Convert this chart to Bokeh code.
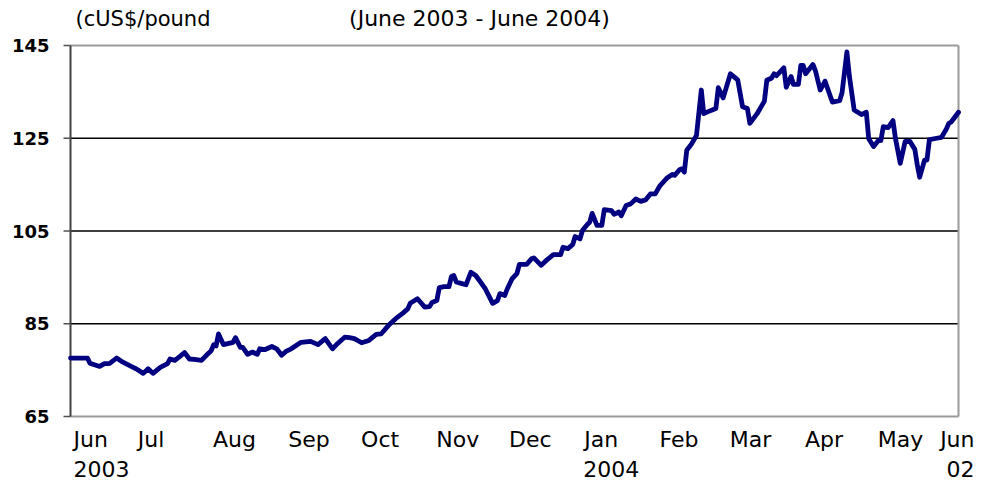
import pandas as pd
from bokeh.plotting import figure
from bokeh.models import Range1d, ColumnDataSource
from bokeh.core.properties import value
from bokeh.embed import file_html
from bokeh.resources import INLINE

# ---------------- data ----------------
start_date = "2003-06-02"
end_date = "2004-06-02"

# day offsets from start_date and copper price (cUS$/pound)
days = [0, 7, 8, 12, 14, 16, 19, 21, 25, 27,
        30, 32, 34, 37, 40, 41, 43, 45, 47, 49,
        51, 54, 56, 58, 59, 60, 61, 63, 67, 68,
        70, 71, 73, 75, 77, 78, 80, 83, 85, 87,
        89, 91, 95, 99, 102, 105, 108, 110, 113, 115,
        117, 120, 123, 126, 128, 131, 134, 137, 139, 140,
        143, 146, 148, 149, 151, 152, 154, 156, 157, 158,
        159, 161, 163, 165, 167, 169, 171, 174, 176, 177,
        179, 180, 182, 184, 185, 188, 190, 191, 194, 196,
        199, 202, 203, 205, 207, 208, 210, 211, 213, 214,
        215, 217, 219, 220, 223, 224, 226, 227, 229, 231,
        233, 235, 237, 239, 241, 243, 246, 248, 249, 251,
        252, 253, 254, 256, 258, 260, 261, 264, 266, 267,
        269, 272, 275, 277, 279, 280, 283, 286, 287, 289,
        290, 291, 294, 295, 297, 298, 300, 301, 302, 303,
        306, 307, 309, 311, 314, 317, 318, 320, 321, 323,
        326, 328, 329, 331, 333, 334, 335, 337, 339, 340,
        342, 344, 346, 348, 349, 350, 352, 353, 354, 357,
        359, 361, 362, 363, 366]

prices = [77.6, 77.6, 76.5, 75.8, 76.4, 76.4, 77.6, 76.9, 75.8, 75.3,
          74.3, 75.3, 74.3, 75.6, 76.4, 77.4, 77.1, 77.9, 78.8, 77.4,
          77.3, 77.1, 78.2, 79.2, 80.5, 80.2, 82.8, 80.5, 81.0, 82.0,
          79.9, 79.9, 78.4, 78.9, 78.4, 79.6, 79.4, 80.1, 79.6, 78.2,
          79.1, 79.6, 81.0, 81.2, 80.5, 81.8, 79.6, 80.7, 82.1, 82.0,
          81.8, 80.9, 81.4, 82.7, 82.8, 84.6, 86.1, 87.3, 88.2, 89.4,
          90.4, 88.6, 88.7, 89.6, 90.0, 92.8, 93.0, 93.0, 95.2, 95.4,
          94.0, 93.7, 93.4, 96.1, 95.4, 94.0, 92.5, 89.4, 90.0, 91.5,
          91.1, 92.5, 94.7, 95.8, 97.8, 97.8, 99.0, 99.2, 97.6, 98.6,
          99.9, 99.9, 101.5, 101.2, 102.1, 103.8, 103.3, 105.1, 106.4, 106.9,
          108.8, 106.2, 106.2, 109.6, 109.4, 108.6, 109.1, 108.3, 110.5, 110.9,
          111.9, 111.4, 111.7, 113.0, 113.0, 114.8, 116.5, 117.2, 117.0, 118.2,
          118.4, 117.7, 122.4, 123.8, 125.6, 135.4, 130.3, 131.0, 131.4, 135.9,
          133.7, 138.9, 137.6, 131.8, 131.4, 128.2, 130.3, 133.0, 137.5, 138.0,
          138.9, 138.5, 140.2, 136.0, 138.3, 136.6, 136.6, 140.7, 140.7, 138.9,
          140.9, 139.6, 135.4, 137.3, 132.8, 133.1, 134.8, 143.6, 138.5, 131.1,
          130.1, 130.6, 124.9, 123.2, 124.5, 124.5, 127.5, 127.3, 128.8, 125.0,
          119.6, 124.3, 124.3, 122.6, 119.3, 116.6, 120.3, 120.3, 124.7, 125.0,
          125.2, 127.0, 128.2, 128.5, 130.6]

y_ticks = [65, 85, 105, 125, 145]
grid_ticks = [85, 105, 125]

month_names = ["Jun", "Jul", "Aug", "Sep", "Oct", "Nov", "Dec",
               "Jan", "Feb", "Mar", "Apr", "May", "Jun"]
month_dates = ["2003-06-02", "2003-07-01", "2003-08-01", "2003-09-01",
               "2003-10-01", "2003-11-01", "2003-12-01", "2004-01-01",
               "2004-02-01", "2004-03-01", "2004-04-01", "2004-05-01",
               "2004-06-02"]
year_names = ["2003", "2004", "02"]
year_dates = ["2003-06-02", "2004-01-01", "2004-06-02"]

unit_text = "(cUS$/pound"
subtitle_text = "(June 2003 - June 2004)"

# ---------------- layout (canvas pixels) ----------------
start = pd.Timestamp(start_date)
x_end = (pd.Timestamp(end_date) - start).days
month_days = [(pd.Timestamp(d) - start).days for d in month_dates]
year_days = [(pd.Timestamp(d) - start).days for d in year_dates]

W, H = 983, 482
BOX_L, BOX_R, BOX_T, BOX_B = 70, 958, 45, 416      # plot box in canvas px
Y0, Y1 = y_ticks[0], y_ticks[-1]
SX = x_end / (BOX_R - BOX_L)        # days per px
SY = (Y1 - Y0) / (BOX_B - BOX_T)    # value per px


def px_x(px):
    return (px - BOX_L) * SX


def px_y(py):
    return Y1 - (py - BOX_T) * SY


p = figure(width=W, height=H, output_backend="svg", toolbar_location=None,
           x_range=Range1d(px_x(0), px_x(W)), y_range=Range1d(px_y(H), px_y(0)),
           min_border=0, min_border_left=0, min_border_right=0,
           min_border_top=0, min_border_bottom=0)
p.axis.visible = False
p.grid.visible = False
p.outline_line_color = None
p.background_fill_color = "white"
p.border_fill_color = "white"

FONT = value("DejaVu Sans")
LABEL_SIZE = "22px"

# horizontal gridlines
p.segment(x0=[0] * len(grid_ticks), x1=[x_end] * len(grid_ticks),
          y0=grid_ticks, y1=grid_ticks, line_color="black", line_width=1.3)

# plot box border (top, bottom, right) in grey
p.segment(x0=[0, 0, x_end], x1=[x_end, x_end, x_end],
          y0=[Y1, Y0, Y0], y1=[Y1, Y0, Y1],
          line_color="#9a9a9a", line_width=2)

# value axis: line, ticks, labels
tick_out = 7 * SX
p.segment(x0=[0], x1=[0], y0=[Y0], y1=[Y1], line_color="#404040", line_width=2)
p.segment(x0=[-tick_out] * len(y_ticks), x1=[0] * len(y_ticks),
          y0=y_ticks, y1=y_ticks, line_color="#505050", line_width=1.5)
p.text(x=[-(7 + 14) * SX] * len(y_ticks), y=y_ticks,
       text=[str(t) for t in y_ticks], text_align="right",
       text_baseline="middle", text_font=FONT, text_font_size="18px",
       text_font_style="bold", text_color="black")

# price line
src = ColumnDataSource(dict(day=days, price=prices))
p.line(x="day", y="price", source=src, line_color="#000080",
       line_width=4.8, line_join="round", line_cap="round")

# category labels along the bottom
ym, yy = px_y(439), px_y(468)
p.text(x=month_days[:1], y=[ym], text=month_names[:1],
       text_align="left", text_baseline="middle", x_offset=3,
       text_font=FONT, text_font_size=LABEL_SIZE, text_color="black")
p.text(x=month_days[1:-1], y=[ym] * (len(month_names) - 2),
       text=month_names[1:-1], text_align="left", text_baseline="middle",
       x_offset=-3, text_font=FONT, text_font_size=LABEL_SIZE,
       text_color="black")
p.text(x=month_days[-1:], y=[ym], text=month_names[-1:],
       text_align="right", text_baseline="middle", x_offset=16,
       text_font=FONT, text_font_size=LABEL_SIZE, text_color="black")

p.text(x=year_days[:1], y=[yy], text=year_names[:1],
       text_align="left", text_baseline="middle", x_offset=3,
       text_font=FONT, text_font_size=LABEL_SIZE, text_color="black")
p.text(x=year_days[1:-1], y=[yy] * (len(year_names) - 2),
       text=year_names[1:-1], text_align="left", text_baseline="middle",
       x_offset=-4, text_font=FONT, text_font_size=LABEL_SIZE,
       text_color="black")
p.text(x=year_days[-1:], y=[yy], text=year_names[-1:],
       text_align="right", text_baseline="middle", x_offset=16,
       text_font=FONT, text_font_size=LABEL_SIZE, text_color="black")

# unit and subtitle
p.text(x=[px_x(75)], y=[px_y(18)], text=[unit_text], text_align="left",
       text_baseline="middle", text_font=FONT, text_font_size="21px",
       text_color="black")
p.text(x=[px_x(479)], y=[px_y(18)], text=[subtitle_text], text_align="center",
       text_baseline="middle", text_font=FONT, text_font_size="22px",
       text_color="black")

open("out.html", "w").write(file_html(p, INLINE))
